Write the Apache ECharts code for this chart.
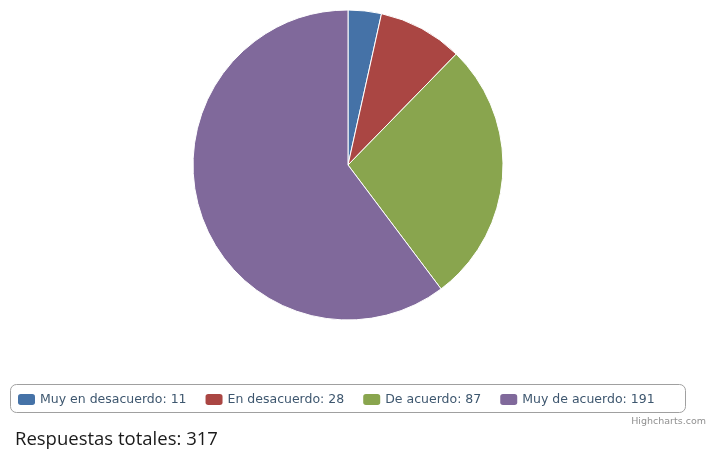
<!DOCTYPE html>
<html>
<head>
<meta charset="utf-8">
<script src="https://cdn.jsdelivr.net/npm/echarts@6/dist/echarts.min.js"></script>
<style>
  html, body { margin: 0; padding: 0; background: #fff; }
  #chart { width: 708px; height: 452px; }
</style>
</head>
<body>
<div id="chart"></div>
<script>
const categories = ['Muy en desacuerdo', 'En desacuerdo', 'De acuerdo', 'Muy de acuerdo'];
const responses = [11, 28, 87, 191];
const sliceColors = ['#4572A7', '#AA4643', '#89A54E', '#80699B'];
const totalLabel = 'Respuestas totales: ';

const total = responses.reduce((a, b) => a + b, 0);
const valueByName = {};
categories.forEach((c, i) => { valueByName[c] = responses[i]; });

const chart = echarts.init(document.getElementById('chart'), null, { renderer: 'canvas' });
chart.setOption({
  animation: false,
  color: sliceColors,
  legend: {
    left: 13,
    top: 388,
    padding: 5,
    itemWidth: 17,
    itemHeight: 11,
    itemGap: 19,
    icon: 'roundRect',
    selectedMode: false,
    itemStyle: { borderWidth: 0 },
    textStyle: { fontFamily: 'DejaVu Sans', fontSize: 12.5, color: '#3E576F' },
    formatter: name => name + ': ' + valueByName[name],
    data: categories
  },
  graphic: [
    {
      type: 'rect',
      z: -1,
      shape: { x: 10.5, y: 384.5, width: 675, height: 28, r: 6 },
      style: { fill: 'none', stroke: '#a0a0a0', lineWidth: 1 },
      silent: true
    },
    {
      type: 'text',
      right: 2,
      top: 417,
      style: { text: 'Highcharts.com', fontFamily: 'DejaVu Sans', fontSize: 9.5, fill: '#909090' }
    },
    {
      type: 'text',
      left: 15,
      top: 430,
      style: { text: totalLabel + total, fontFamily: 'Open Sans', fontSize: 18.5, fill: '#1a1a1a' }
    }
  ],
  series: [{
    type: 'pie',
    center: [348, 165],
    radius: 155,
    startAngle: 90,
    clockwise: true,
    label: { show: false },
    labelLine: { show: false },
    emphasis: { disabled: true },
    itemStyle: { borderColor: '#ffffff', borderWidth: 1 },
    data: categories.map((c, i) => ({ name: c, value: responses[i] }))
  }]
});
</script>
</body>
</html>
